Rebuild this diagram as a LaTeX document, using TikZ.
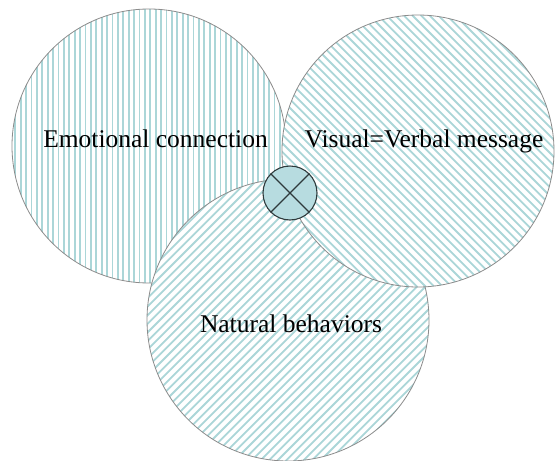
\documentclass[tikz,border=0pt]{standalone}
\usepackage{fontspec}
\setmainfont{Liberation Serif}
\definecolor{hatchc}{HTML}{ABD6D8}
\definecolor{rimc}{HTML}{8C8C8C}
\definecolor{crossfill}{HTML}{B7DCE0}
\definecolor{crossrim}{HTML}{2E3A3C}
\tikzset{
  bigcircle/.style={circle, draw=rimc, line width=0.8pt, fill=white, inner sep=0pt, minimum size=#1},
  hatch/.style={hatchc, line width=1.8pt},
  label/.style={inner sep=0pt, anchor=base, font=\fontsize{25.5}{30}\selectfont},
  vhatch/.style={path picture={
    \foreach \i in {-150,-144.6,...,150}
      \draw[hatch] ([xshift=\i pt]path picture bounding box.north) -- ([xshift=\i pt]path picture bounding box.south);}},
  dhatch/.style={path picture={
    \foreach \i in {-300,-291.4,...,300}
      \draw[hatch] ([xshift=\i pt]path picture bounding box.north west) -- ([xshift=\i pt]path picture bounding box.south east);}},
  ahatch/.style={path picture={
    \foreach \i in {-300,-291.4,...,300}
      \draw[hatch] ([xshift=\i pt]path picture bounding box.south west) -- ([xshift=\i pt]path picture bounding box.north east);}},
}
\begin{document}
\begin{tikzpicture}[x=1pt, y=-1pt]
\useasboundingbox (0,0) rectangle (558,461);
\node[bigcircle=274pt, vhatch] (emo) at (149,146) {};
\node[bigcircle=282pt, ahatch] (nat) at (288,320) {};
\node[bigcircle=272pt, dhatch] (vis) at (418,151) {};
\node[circle, draw=crossrim, fill=crossfill, line width=1.1pt, inner sep=0pt, minimum size=54pt] (x) at (290,193) {};
\draw[crossrim, line width=1.1pt] (x.north west) -- (x.south east);
\draw[crossrim, line width=1.1pt] (x.north east) -- (x.south west);
\node[label] (emot) at (155.5,147) {Emotional connection};
\node[label] (vist) at (424,147) {Visual=Verbal message};
\node[label] (natt) at (291,332) {Natural behaviors};
\end{tikzpicture}
\end{document}
